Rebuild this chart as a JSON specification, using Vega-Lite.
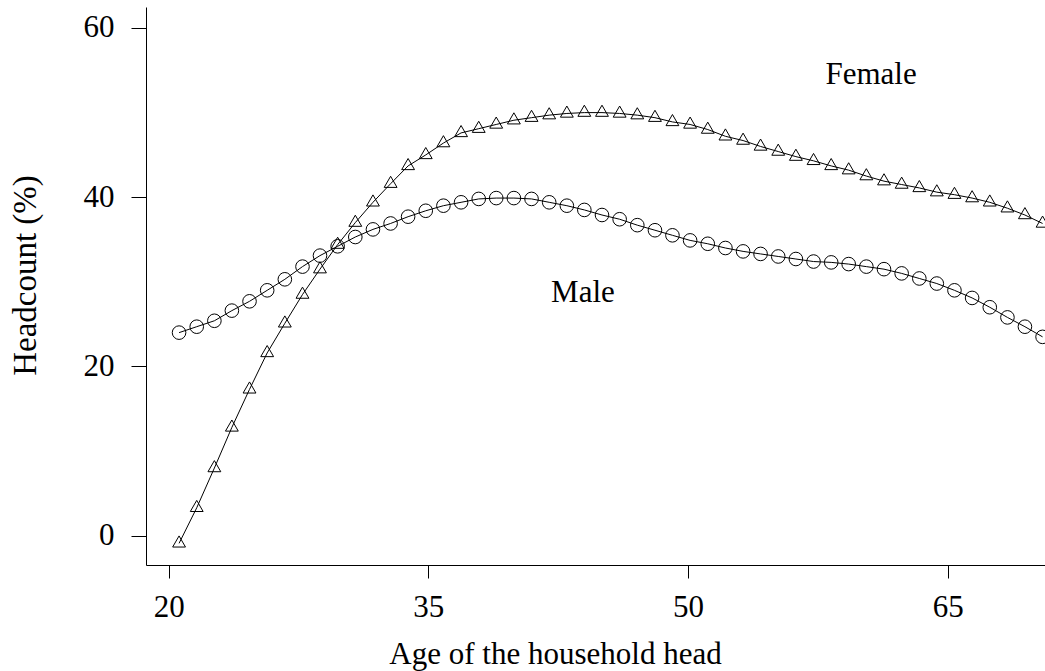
{
  "$schema": "https://vega.github.io/schema/vega-lite/v6.json",
  "width": 899,
  "height": 558,
  "autosize": {"type": "none"},
  "padding": {"left": 146, "top": 7, "right": 0, "bottom": 106},
  "background": "white",
  "config": {
    "view": {"stroke": null},
    "font": "Liberation Serif",
    "axis": {
      "grid": false,
      "domainColor": "black",
      "domainWidth": 1,
      "tickColor": "black",
      "tickWidth": 1,
      "labelColor": "black",
      "labelFont": "Liberation Serif",
      "labelFontSize": 31,
      "titleColor": "black",
      "titleFont": "Liberation Serif",
      "titleFontSize": 31,
      "titleFontWeight": "normal"
    }
  },
  "datasets": {
    "headcount": [
      {"age": 20.60, "Female": -0.9, "Male": 24.0},
      {"age": 21.62, "Female": 3.3, "Male": 24.7},
      {"age": 22.64, "Female": 8.0, "Male": 25.4},
      {"age": 23.65, "Female": 12.8, "Male": 26.6},
      {"age": 24.67, "Female": 17.3, "Male": 27.7},
      {"age": 25.69, "Female": 21.6, "Male": 29.0},
      {"age": 26.71, "Female": 25.1, "Male": 30.3},
      {"age": 27.73, "Female": 28.5, "Male": 31.8},
      {"age": 28.74, "Female": 31.5, "Male": 33.1},
      {"age": 29.76, "Female": 34.4, "Male": 34.2},
      {"age": 30.78, "Female": 37.0, "Male": 35.3},
      {"age": 31.80, "Female": 39.4, "Male": 36.2},
      {"age": 32.82, "Female": 41.6, "Male": 36.9},
      {"age": 33.83, "Female": 43.7, "Male": 37.7},
      {"age": 34.85, "Female": 45.0, "Male": 38.4},
      {"age": 35.87, "Female": 46.4, "Male": 39.0},
      {"age": 36.89, "Female": 47.6, "Male": 39.4},
      {"age": 37.91, "Female": 48.1, "Male": 39.8},
      {"age": 38.92, "Female": 48.6, "Male": 39.9},
      {"age": 39.94, "Female": 49.1, "Male": 39.9},
      {"age": 40.96, "Female": 49.4, "Male": 39.8},
      {"age": 41.98, "Female": 49.7, "Male": 39.4},
      {"age": 43.00, "Female": 49.9, "Male": 39.0},
      {"age": 44.01, "Female": 50.0, "Male": 38.5},
      {"age": 45.03, "Female": 50.0, "Male": 37.9},
      {"age": 46.05, "Female": 49.9, "Male": 37.4},
      {"age": 47.07, "Female": 49.7, "Male": 36.7},
      {"age": 48.09, "Female": 49.4, "Male": 36.1},
      {"age": 49.10, "Female": 48.9, "Male": 35.5},
      {"age": 50.12, "Female": 48.6, "Male": 34.9},
      {"age": 51.14, "Female": 48.0, "Male": 34.5},
      {"age": 52.16, "Female": 47.2, "Male": 34.0},
      {"age": 53.18, "Female": 46.7, "Male": 33.6},
      {"age": 54.19, "Female": 46.0, "Male": 33.3},
      {"age": 55.21, "Female": 45.4, "Male": 33.0},
      {"age": 56.23, "Female": 44.8, "Male": 32.7},
      {"age": 57.25, "Female": 44.3, "Male": 32.4},
      {"age": 58.27, "Female": 43.7, "Male": 32.3},
      {"age": 59.28, "Female": 43.2, "Male": 32.1},
      {"age": 60.30, "Female": 42.5, "Male": 31.8},
      {"age": 61.32, "Female": 41.9, "Male": 31.5},
      {"age": 62.34, "Female": 41.5, "Male": 31.0},
      {"age": 63.36, "Female": 41.1, "Male": 30.4},
      {"age": 64.37, "Female": 40.6, "Male": 29.8},
      {"age": 65.39, "Female": 40.3, "Male": 29.0},
      {"age": 66.41, "Female": 39.9, "Male": 28.1},
      {"age": 67.43, "Female": 39.4, "Male": 27.0},
      {"age": 68.45, "Female": 38.7, "Male": 25.8},
      {"age": 69.46, "Female": 37.9, "Male": 24.7},
      {"age": 70.48, "Female": 36.9, "Male": 23.5}
    ],
    "notes": [
      {"label": "Female", "age": 60.57, "value": 54.4},
      {"label": "Male", "age": 43.93, "value": 28.7}
    ]
  },
  "layer": [
    {
      "data": {"name": "headcount"},
      "transform": [{"fold": ["Female", "Male"], "as": ["sex", "value"]}],
      "mark": {"type": "line", "color": "black", "strokeWidth": 1},
      "encoding": {
        "x": {
          "field": "age",
          "type": "quantitative",
          "scale": {"domain": [18.69, 70.62], "nice": false, "zero": false},
          "axis": {
            "values": [20, 35, 50, 65],
            "tickSize": 13,
            "labelPadding": 14,
            "title": "Age of the household head",
            "titleX": 409,
            "titleY": 89,
            "titleAlign": "center",
            "titleBaseline": "middle"
          }
        },
        "y": {
          "field": "value",
          "type": "quantitative",
          "scale": {"domain": [-3.46, 62.48], "nice": false, "zero": false},
          "axis": {
            "values": [0, 20, 40, 60],
            "tickSize": 15,
            "labelPadding": 17,
            "title": "Headcount (%)",
            "titleFontSize": 33,
            "titleX": -121,
            "titleY": 268,
            "titleBaseline": "middle"
          }
        },
        "detail": {"field": "sex"}
      }
    },
    {
      "data": {"name": "headcount"},
      "transform": [{"fold": ["Female", "Male"], "as": ["sex", "value"]}],
      "mark": {"type": "point", "filled": false, "color": "black", "strokeWidth": 1, "opacity": 1},
      "encoding": {
        "x": {"field": "age", "type": "quantitative"},
        "y": {"field": "value", "type": "quantitative"},
        "shape": {
          "field": "sex",
          "scale": {"domain": ["Female", "Male"], "range": ["M0,-1L0.866,0.5L-0.866,0.5Z", "circle"]},
          "legend": null
        },
        "size": {
          "field": "sex",
          "scale": {"domain": ["Female", "Male"], "range": [220, 185]},
          "legend": null
        }
      }
    },
    {
      "data": {"name": "notes"},
      "mark": {"type": "text", "font": "Liberation Serif", "fontSize": 31, "color": "black", "baseline": "middle", "align": "center"},
      "encoding": {
        "x": {"field": "age", "type": "quantitative"},
        "y": {"field": "value", "type": "quantitative"},
        "text": {"field": "label"}
      }
    }
  ]
}
